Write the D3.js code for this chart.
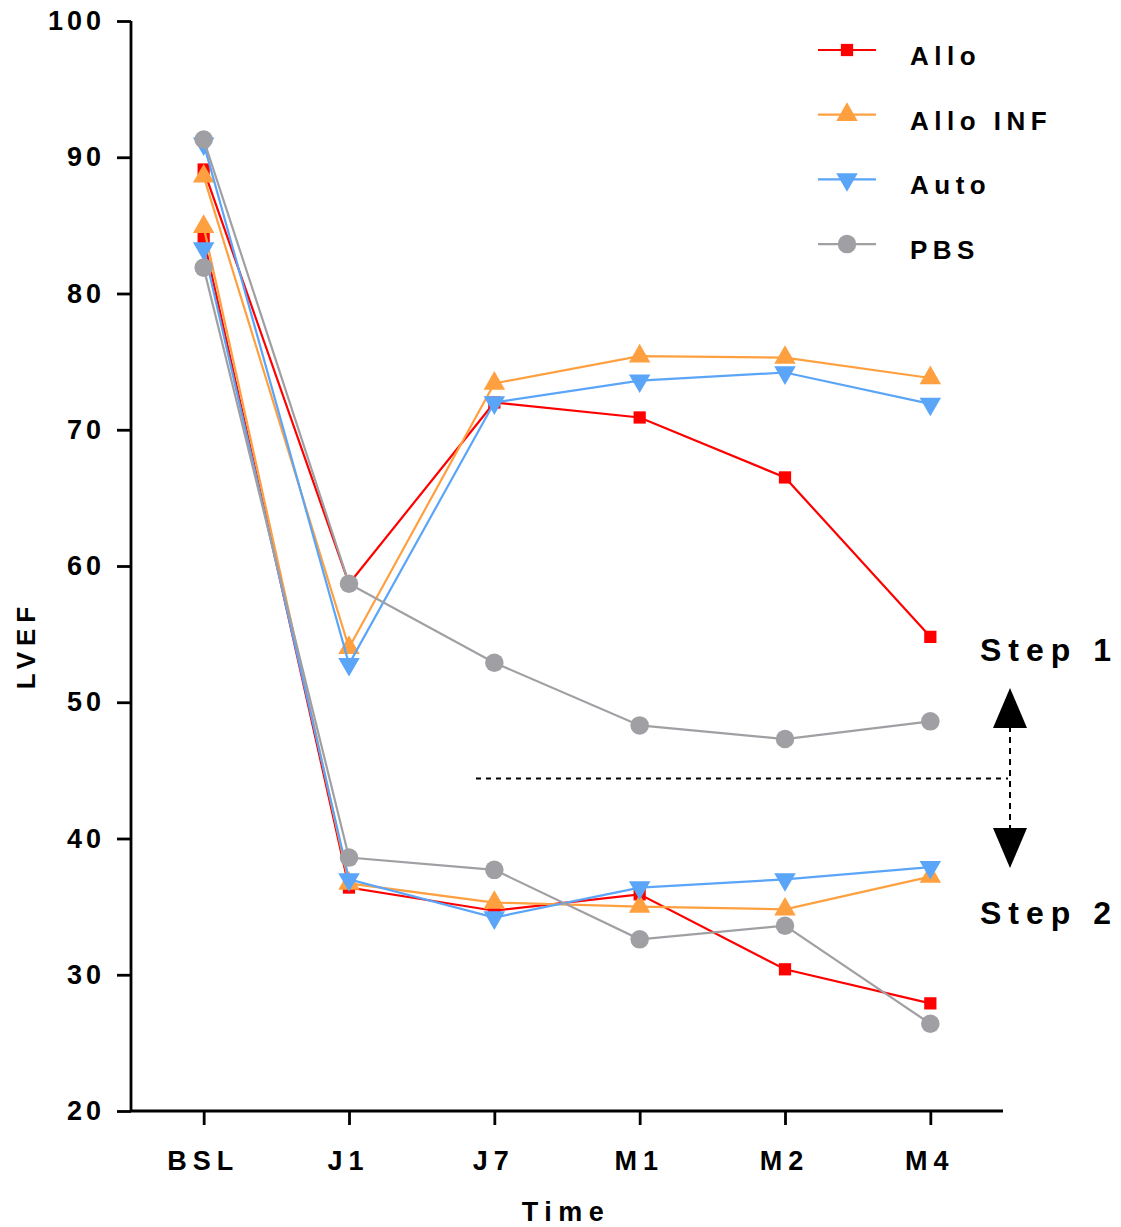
<!DOCTYPE html>
<html>
<head>
<meta charset="utf-8">
<script src="https://cdn.jsdelivr.net/npm/d3@7"></script>
<style>
  body { margin: 0; background: #fff; }
  text { font-family: "Liberation Sans", Arial, sans-serif; font-weight: bold; fill: #000; }
</style>
</head>
<body>
<script>
var times = ['BSL', 'J1', 'J7', 'M1', 'M2', 'M4'];
var yTicks = [20, 30, 40, 50, 60, 70, 80, 90, 100];

// LVEF, step 1 (upper group) and step 2 (lower group)
var alloStep1 = [89.1, 58.7, 72.0, 70.9, 66.5, 54.8];
var alloStep2 = [84.0, 36.4, 34.7, 35.9, 30.4, 27.9];
var alloInfStep1 = [88.6, 54.0, 73.4, 75.4, 75.3, 73.8];
var alloInfStep2 = [84.9, 36.7, 35.3, 35.0, 34.8, 37.2];
var autoStep1 = [91.0, 52.8, 72.0, 73.6, 74.2, 71.9];
var autoStep2 = [83.3, 37.0, 34.2, 36.4, 37.0, 37.9];
var pbsStep1 = [91.3, 58.7, 52.9, 48.3, 47.3, 48.6];
var pbsStep2 = [81.9, 38.6, 37.7, 32.6, 33.6, 26.4];

var series = [
  { name: 'Allo', color: '#ff0000', symbol: d3.symbolSquare, size: 150, rot: 0, data: [alloStep1, alloStep2] },
  { name: 'Allo INF', color: '#ffa040', symbol: d3.symbolTriangle, size: 200, rot: 0, data: [alloInfStep1, alloInfStep2] },
  { name: 'Auto', color: '#5aa5f8', symbol: d3.symbolTriangle, size: 200, rot: 180, data: [autoStep1, autoStep2] },
  { name: 'PBS', color: '#a0a0a4', symbol: d3.symbolCircle, size: 270, rot: 0, data: [pbsStep1, pbsStep2] }
];

var separator = 44.4;

var width = 1121, height = 1227;
var svg = d3.select('body').append('svg')
  .attr('width', width)
  .attr('height', height);

var x = d3.scalePoint().domain(times).range([131, 1003]).padding(0.5);
var y = d3.scaleLinear().domain([20, 100]).range([1111, 21]);

// axes
var yAxis = svg.append('g')
  .attr('transform', 'translate(131,0)')
  .call(d3.axisLeft(y).tickValues(yTicks).tickSize(14).tickPadding(12));
var xAxis = svg.append('g')
  .attr('transform', 'translate(0,1111)')
  .call(d3.axisBottom(x).tickSize(14).tickPadding(26));

[yAxis, xAxis].forEach(function(a) {
  a.select('.domain').attr('stroke', '#000').attr('stroke-width', 2.8);
  a.selectAll('.tick line').attr('stroke', '#000').attr('stroke-width', 2.8);
  a.selectAll('.tick text')
    .style('font-family', '"Liberation Sans", Arial, sans-serif')
    .style('font-weight', 'bold')
    .style('font-size', '27px')
    .attr('fill', '#000');
});
yAxis.selectAll('.tick text').style('letter-spacing', '4px');
xAxis.selectAll('.tick text').style('letter-spacing', '6px').attr('dx', '-1px');
yAxis.select('.domain').attr('d', 'M0,1111V21');
xAxis.select('.domain').attr('d', 'M131,0H1003');
xAxis.selectAll('.tick text').attr('dy', '0.71em');

svg.append('text')
  .attr('transform', 'translate(35,645) rotate(-90)')
  .attr('text-anchor', 'middle')
  .style('font-size', '26px')
  .style('letter-spacing', '6px')
  .text('LVEF');
svg.append('text')
  .attr('x', 566).attr('y', 1221)
  .attr('text-anchor', 'middle')
  .style('font-size', '27px')
  .style('letter-spacing', '6.5px')
  .text('Time');

// lines and markers
var line = d3.line()
  .x(function(d, i) { return x(times[i]); })
  .y(function(d) { return y(d); });

series.forEach(function(s) {
  var g = svg.append('g');
  s.data.forEach(function(vals) {
    g.append('path')
      .attr('d', line(vals))
      .attr('fill', 'none')
      .attr('stroke', s.color)
      .attr('stroke-width', 2.2);
    g.selectAll(null).data(vals).enter()
      .append('path')
      .attr('d', d3.symbol().type(s.symbol).size(s.size))
      .attr('transform', function(d, i) {
        return 'translate(' + x(times[i]) + ',' + y(d) + ') rotate(' + s.rot + ')';
      })
      .attr('fill', s.color);
  });
});

// separator and arrows
svg.append('line')
  .attr('x1', 476).attr('x2', 1008)
  .attr('y1', y(separator)).attr('y2', y(separator))
  .attr('stroke', '#000').attr('stroke-width', 2)
  .attr('stroke-dasharray', '5,5');
svg.append('line')
  .attr('x1', 1010).attr('x2', 1010)
  .attr('y1', 726).attr('y2', 830)
  .attr('stroke', '#000').attr('stroke-width', 2)
  .attr('stroke-dasharray', '6,5');
svg.append('path')
  .attr('d', 'M1010,688L1027,728L993,728Z')
  .attr('fill', '#000');
svg.append('path')
  .attr('d', 'M1010,868L1027,828L993,828Z')
  .attr('fill', '#000');
svg.append('text')
  .attr('x', 980).attr('y', 661)
  .style('font-size', '32px')
  .style('letter-spacing', '7px')
  .text('Step 1');
svg.append('text')
  .attr('x', 980).attr('y', 924)
  .style('font-size', '32px')
  .style('letter-spacing', '7px')
  .text('Step 2');

// legend
var legend = svg.append('g');
series.forEach(function(s, i) {
  var ly = 50 + i * 64.7;
  legend.append('line')
    .attr('x1', 818).attr('x2', 876)
    .attr('y1', ly).attr('y2', ly)
    .attr('stroke', s.color).attr('stroke-width', 2.2);
  legend.append('path')
    .attr('d', d3.symbol().type(s.symbol).size(s.size))
    .attr('transform', 'translate(847,' + ly + ') rotate(' + s.rot + ')')
    .attr('fill', s.color);
  legend.append('text')
    .attr('x', 910).attr('y', ly + 15)
    .style('font-size', '26px')
    .style('letter-spacing', '5.5px')
    .text(s.name);
});
</script>
</body>
</html>
